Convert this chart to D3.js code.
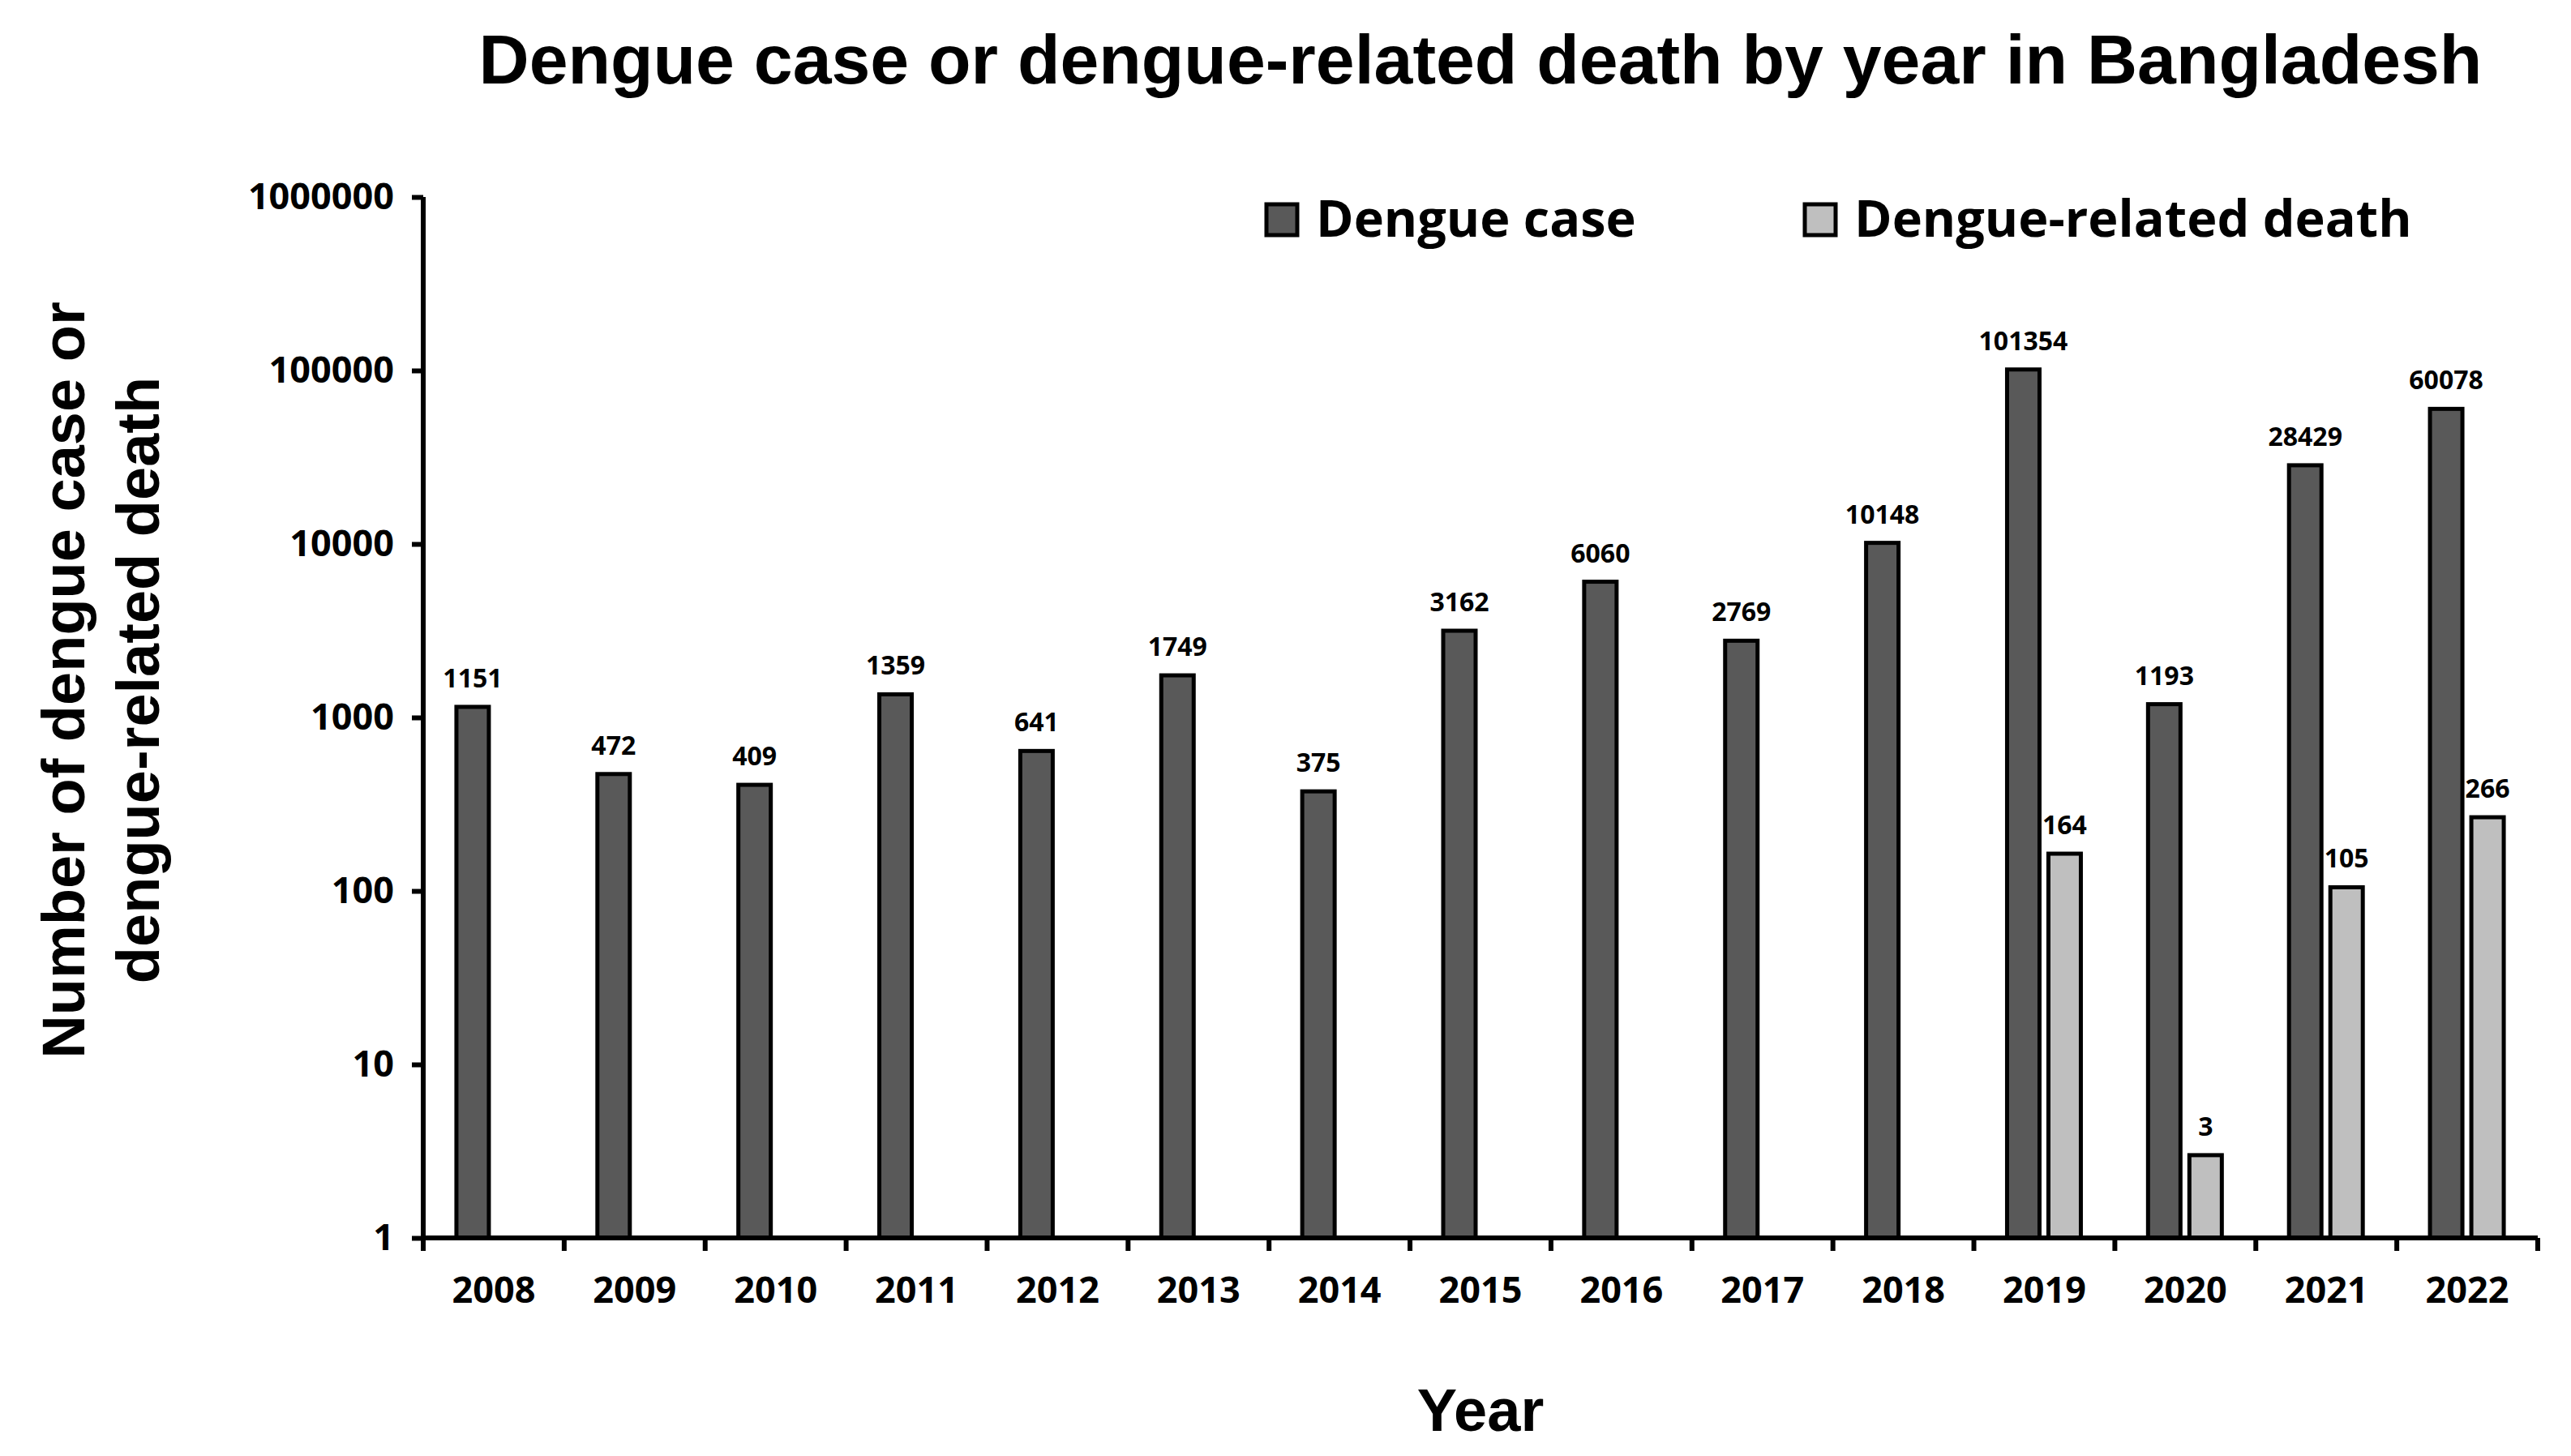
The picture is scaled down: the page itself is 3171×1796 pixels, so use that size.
<!DOCTYPE html>
<html><head><meta charset="utf-8">
<script src="https://cdn.jsdelivr.net/npm/d3@7"></script>
<style>body{margin:0;background:#fff}</style>
</head><body><div id="chart"></div>
<script>
const years = ["2008","2009","2010","2011","2012","2013","2014","2015","2016","2017","2018","2019","2020","2021","2022"];
const cases = [1151,472,409,1359,641,1749,375,3162,6060,2769,10148,101354,1193,28429,60078];
const deaths = [null,null,null,null,null,null,null,null,null,null,null,164,3,105,266];
const yTicks = [1,10,100,1000,10000,100000,1000000];

const W = 3171, H = 1796;
const m = {left: 522, right: 41, top: 243, bottom: 269};
const svg = d3.select("#chart").append("svg").attr("width", W).attr("height", H)
    .style("font-family", "Liberation Sans, Arial, sans-serif");

const x = d3.scaleBand().domain(years).range([m.left, W - m.right]);
const y = d3.scaleLog().domain([1, 1000000]).range([H - m.bottom, m.top]);

// bars
const g = svg.append("g");
const bw = 40;
function drawSeries(vals, dx, fill) {
    const d = years.map((yr, i) => ({yr, v: vals[i]})).filter(d => d.v != null);
    g.selectAll(null).data(d).enter().append("rect")
        .attr("x", d => x(d.yr) + x.bandwidth() / 2 + dx)
        .attr("y", d => y(d.v))
        .attr("width", bw)
        .attr("height", d => y(1) - y(d.v))
        .attr("fill", fill).attr("stroke", "#000").attr("stroke-width", 5);
    g.selectAll(null).data(d).enter().append("text")
        .attr("x", d => x(d.yr) + x.bandwidth() / 2 + dx + bw / 2)
        .attr("y", d => y(d.v) - 24)
        .attr("text-anchor", "middle").attr("font-size", 32).attr("font-weight", "bold")
        .attr("font-family", "Open Sans, sans-serif")
        .text(d => d.v);
}
drawSeries(cases, -46, "#595959");
drawSeries(deaths, 5, "#bfbfbf");

// axes
const yAxis = svg.append("g").attr("transform", `translate(${m.left},0)`)
    .call(d3.axisLeft(y).tickValues(yTicks).tickFormat(d3.format("d")).tickSize(14).tickPadding(22));
const xAxis = svg.append("g").attr("transform", `translate(0,${H - m.bottom})`)
    .call(d3.axisBottom(x).tickSize(0).tickPadding(48));
// x ticks at band boundaries
xAxis.selectAll(".sep").data(years.concat(["end"])).enter().append("line")
    .attr("x1", (d, i) => m.left + i * x.step()).attr("x2", (d, i) => m.left + i * x.step())
    .attr("y1", 0).attr("y2", 16).attr("stroke", "#000").attr("stroke-width", 6);
[yAxis, xAxis].forEach(a => {
    a.select(".domain").attr("stroke", "#000").attr("stroke-width", 6);
    a.selectAll(".tick line").attr("stroke-width", 6);
    a.selectAll("text").attr("font-size", 45).attr("font-weight", "bold").attr("fill", "#000")
        .attr("font-family", "Open Sans, sans-serif");
});
yAxis.select(".domain").attr("d", `M0,${y(1000000)}V${y(1)}`);
xAxis.select(".domain").attr("d", `M${m.left},0H${W - m.right}`);

// titles
svg.append("text").attr("x", 1826).attr("y", 103).attr("text-anchor", "middle")
    .attr("font-size", 86).attr("font-weight", "bold")
    .text("Dengue case or dengue-related death by year in Bangladesh");
svg.append("text").attr("x", 1826).attr("y", 1765).attr("text-anchor", "middle")
    .attr("font-size", 74).attr("font-weight", "bold").text("Year");
const yt = svg.append("text").attr("transform", "translate(104,839) rotate(-90)")
    .attr("text-anchor", "middle").attr("font-size", 74).attr("font-weight", "bold");
yt.append("tspan").attr("x", 0).attr("dy", 0).text("Number of dengue case or");
yt.append("tspan").attr("x", 0).attr("dy", 92).text("dengue-related death");

// legend
const legend = [["Dengue case", "#595959", 1562], ["Dengue-related death", "#bfbfbf", 2226]];
legend.forEach(([t, c, lx]) => {
    svg.append("rect").attr("x", lx).attr("y", 252).attr("width", 38).attr("height", 38)
        .attr("fill", c).attr("stroke", "#000").attr("stroke-width", 5);
    svg.append("text").attr("x", lx + 61).attr("y", 292).attr("font-size", 63)
        .attr("font-weight", "bold").attr("font-family", "Open Sans, sans-serif").text(t);
});
</script></body></html>
